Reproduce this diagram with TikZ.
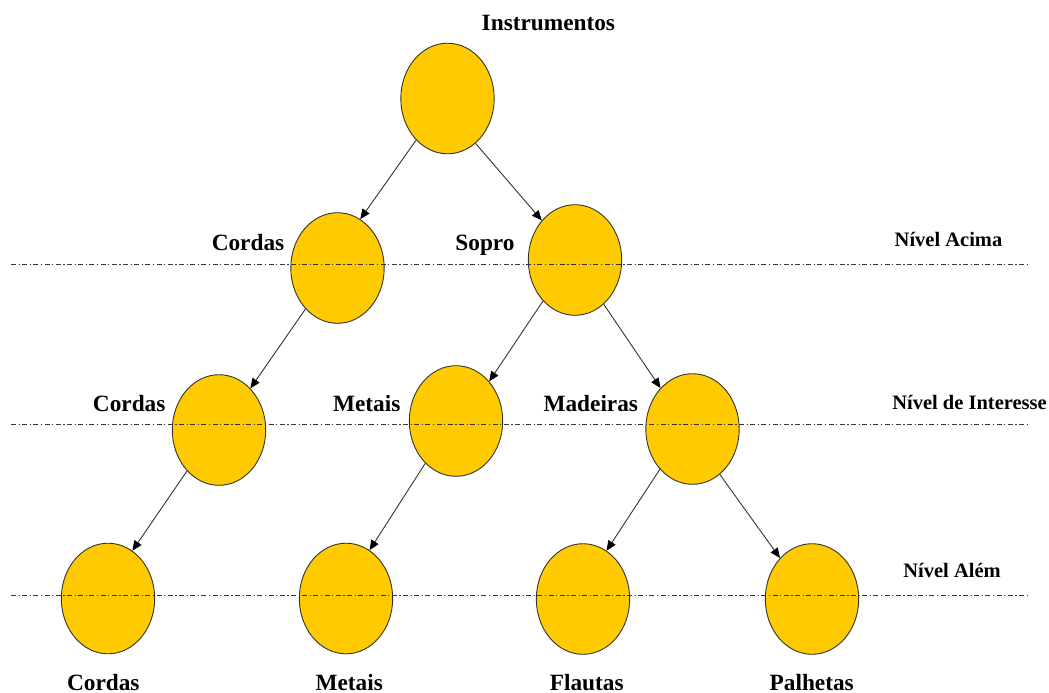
\documentclass[tikz,border=0pt]{standalone}
\usepackage{fontspec}
\setmainfont{Liberation Serif}
\usetikzlibrary{shapes.geometric,arrows.meta}
\definecolor{nodefill}{HTML}{FFCA00}
\definecolor{edgegray}{HTML}{333333}
\tikzset{
  item/.style={ellipse, draw=edgegray, line width=0.9pt, fill=nodefill,
               minimum width=93.4pt, minimum height=110.6pt, inner sep=0pt},
  lbl/.style={anchor=base, inner sep=0pt, font=\bfseries\fontsize{23.3}{28}\selectfont},
  lvl/.style={anchor=base, inner sep=0pt, font=\bfseries\fontsize{20.5}{24}\selectfont},
  link/.style={draw=edgegray, line width=0.9pt,
               -{Triangle[length=10pt,width=8.5pt,color=black]}},
  levelline/.style={draw=edgegray, line width=0.9pt,
               dash pattern=on 5pt off 2.5pt on 1.2pt off 2.5pt}
}
\begin{document}
\begin{tikzpicture}[x=1pt, y=-1pt]
\useasboundingbox (0,0) rectangle (1049,693);

% tree nodes
\node[item] (root) at (447.5,98.5) {};
\node[item] (cordasA) at (337.5,268) {};
\node[item] (sopro) at (575,260) {};
\node[item] (cordasB) at (219,430) {};
\node[item] (metaisB) at (456,421) {};
\node[item] (madeiras) at (692.5,429) {};
\node[item] (cordasC) at (108,598.5) {};
\node[item] (metaisC) at (346,598.5) {};
\node[item] (flautas) at (583,599) {};
\node[item] (palhetas) at (812,599) {};

% level lines
\coordinate (l1a) at (11,264);   \coordinate (l1b) at (1027,264);
\coordinate (l2a) at (11,424.5); \coordinate (l2b) at (1027,424.5);
\coordinate (l3a) at (11,595.5); \coordinate (l3b) at (1027,595.5);
\draw[levelline] (l1a) -- (l1b);
\draw[levelline] (l2a) -- (l2b);
\draw[levelline] (l3a) -- (l3b);

% connectors
\draw[link] (root.233) -- (cordasA.65);
\draw[link] (root.302) -- (sopro.130);
\draw[link] (cordasA.232) -- (cordasB.53);
\draw[link] (sopro.232) -- (metaisB.50);
\draw[link] (sopro.303) -- (madeiras.128);
\draw[link] (cordasB.232) -- (cordasC.63);
\draw[link] (metaisB.234) -- (metaisC.64);
\draw[link] (madeiras.231) -- (flautas.64);
\draw[link] (madeiras.301) -- (palhetas.128);

% node labels
\node[lbl] (tInstr) at (548.4,30.7) {Instrumentos};
\node[lbl] (tCordasA) at (248,250) {Cordas};
\node[lbl] (tSopro) at (485,250) {Sopro};
\node[lbl] (tCordasB) at (129.2,411.7) {Cordas};
\node[lbl] (tMetaisB) at (366.7,411.7) {Metais};
\node[lbl] (tMadeiras) at (590.8,411.7) {Madeiras};
\node[lbl] (tCordasC) at (103.3,690) {Cordas};
\node[lbl] (tMetaisC) at (349.2,690) {Metais};
\node[lbl] (tFlautas) at (586.7,690) {Flautas};
\node[lbl] (tPalhetas) at (811.7,690) {Palhetas};

% level labels
\node[lvl] (tAcima) at (948.5,246) {Nível Acima};
\node[lvl] (tInteresse) at (969.5,409.3) {Nível de Interesse};
\node[lvl] (tAlem) at (952,577.7) {Nível Além};
\end{tikzpicture}
\end{document}
